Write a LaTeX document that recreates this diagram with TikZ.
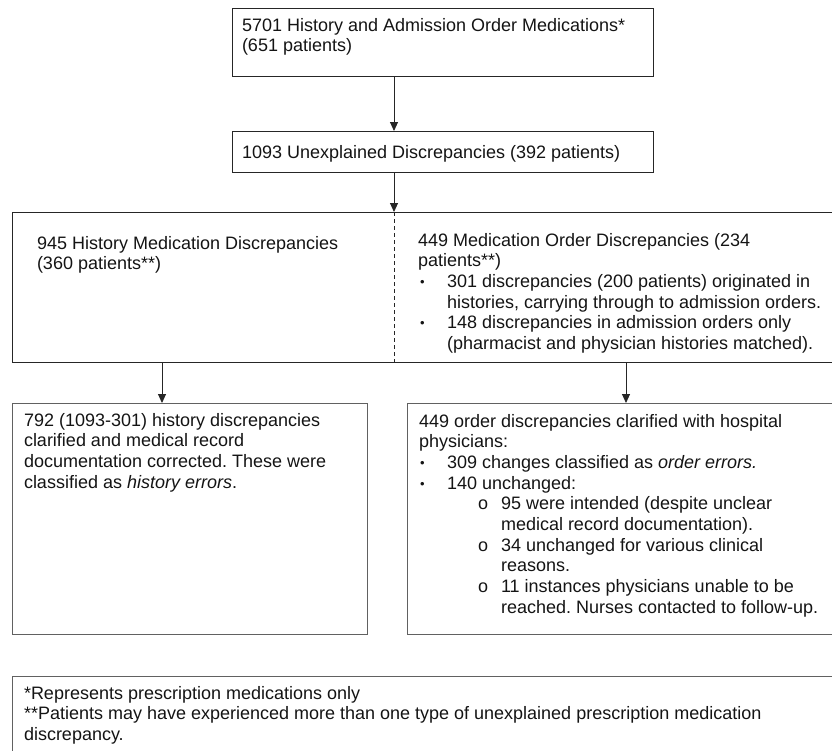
\documentclass[tikz,border=0pt]{standalone}
\usepackage{fontspec}
\setmainfont{Liberation Sans}
\usetikzlibrary{arrows.meta}
\frenchspacing
\newcommand{\fl}{\rule{0pt}{14pt}}
\newcommand{\bul}{\makebox[0pt][l]{\raisebox{1pt}{\fontsize{13}{13}\selectfont\textbullet}}}
\begin{document}
\begin{tikzpicture}[x=1pt,y=-1pt,
  box/.style={draw=black!85, line width=0.9pt, rectangle, inner sep=0pt, outer sep=0pt, anchor=north west},
  lbox/.style={box, draw=black!62},
  txt/.style={anchor=north west, inner sep=0pt, outer sep=0pt, align=left, font=\fontsize{18}{20.7}\selectfont, text=black!92},
  arr/.style={draw=black!85, line width=0.9pt, -{Triangle[length=9pt,width=8pt]}},
  divider/.style={draw=black!85, line width=0.8pt, dash pattern=on 4pt off 3pt}
]
\useasboundingbox (0,0) rectangle (832,750);
\clip (0,0) rectangle (832,750);

% boxes
\node[box, minimum width=421pt, minimum height=68pt] (b1) at (232,8) {};
\node[box, minimum width=421pt, minimum height=41pt] (b2) at (232,131) {};
\node[box, minimum width=830pt, minimum height=150pt] (b3) at (12,212) {};
\node[lbox, minimum width=355pt, minimum height=231pt] (b4) at (12,403) {};
\node[lbox, minimum width=440pt, minimum height=231pt] (b5) at (407,403) {};
\node[lbox, minimum width=830pt, minimum height=90pt] (b6) at (12,676) {};

% connector columns
\coordinate (c1) at (394,0);
\coordinate (c3) at (162,0);
\coordinate (c4) at (626,0);

\draw[arr] (b1.south -| c1) -- (b2.north -| c1);
\draw[arr] (b2.south -| c1) -- (b3.north -| c1);
\draw[divider] (b3.north -| c1) -- (b3.south -| c1);
\draw[arr] (b3.south -| c3) -- (b4.north -| c3);
\draw[arr] (b3.south -| c4) -- (b5.north -| c4);

% texts
\node[txt] (t1) at (242,17) {\fl 5701 History and Admission Order Medications*\\(651 patients)};
\node[txt] (t2) at (242,144) {\fl 1093 Unexplained Discrepancies (392 patients)};
\node[txt] (t3) at (37,235) {\fl 945 History Medication Discrepancies\\(360 patients**)};
\node[txt] (t4) at (418,232) {\fl 449 Medication Order Discrepancies (234\\
patients**)\\
\hspace*{2pt}\bul\hspace*{27pt}301 discrepancies (200 patients) originated in\\
\hspace*{29pt}histories, carrying through to admission orders.\\
\hspace*{2pt}\bul\hspace*{27pt}148 discrepancies in admission orders only\\
\hspace*{29pt}(pharmacist and physician histories matched).};
\node[txt] (t5) at (24,412) {\fl 792 (1093-301) history discrepancies\\
clarified and medical record\\
documentation corrected. These were\\
classified as \textit{history errors}.};
\node[txt] (t6) at (419,413) {\fl 449 order discrepancies clarified with hospital\\
physicians:\\
\hspace*{1pt}\bul\hspace*{27pt}309 changes classified as \textit{order errors.}\\
\hspace*{1pt}\bul\hspace*{27pt}140 unchanged:\\
\hspace*{59pt}o\hspace*{13pt}95 were intended (despite unclear\\
\hspace*{82pt}medical record documentation).\\
\hspace*{59pt}o\hspace*{13pt}34 unchanged for various clinical\\
\hspace*{82pt}reasons.\\
\hspace*{59pt}o\hspace*{13pt}11 instances physicians unable to be\\
\hspace*{82pt}reached. Nurses contacted to follow-up.};
\node[txt] (t7) at (24,685) {\fl *Represents prescription medications only\\
**Patients may have experienced more than one type of unexplained prescription medication\\
discrepancy.};
\end{tikzpicture}
\end{document}
